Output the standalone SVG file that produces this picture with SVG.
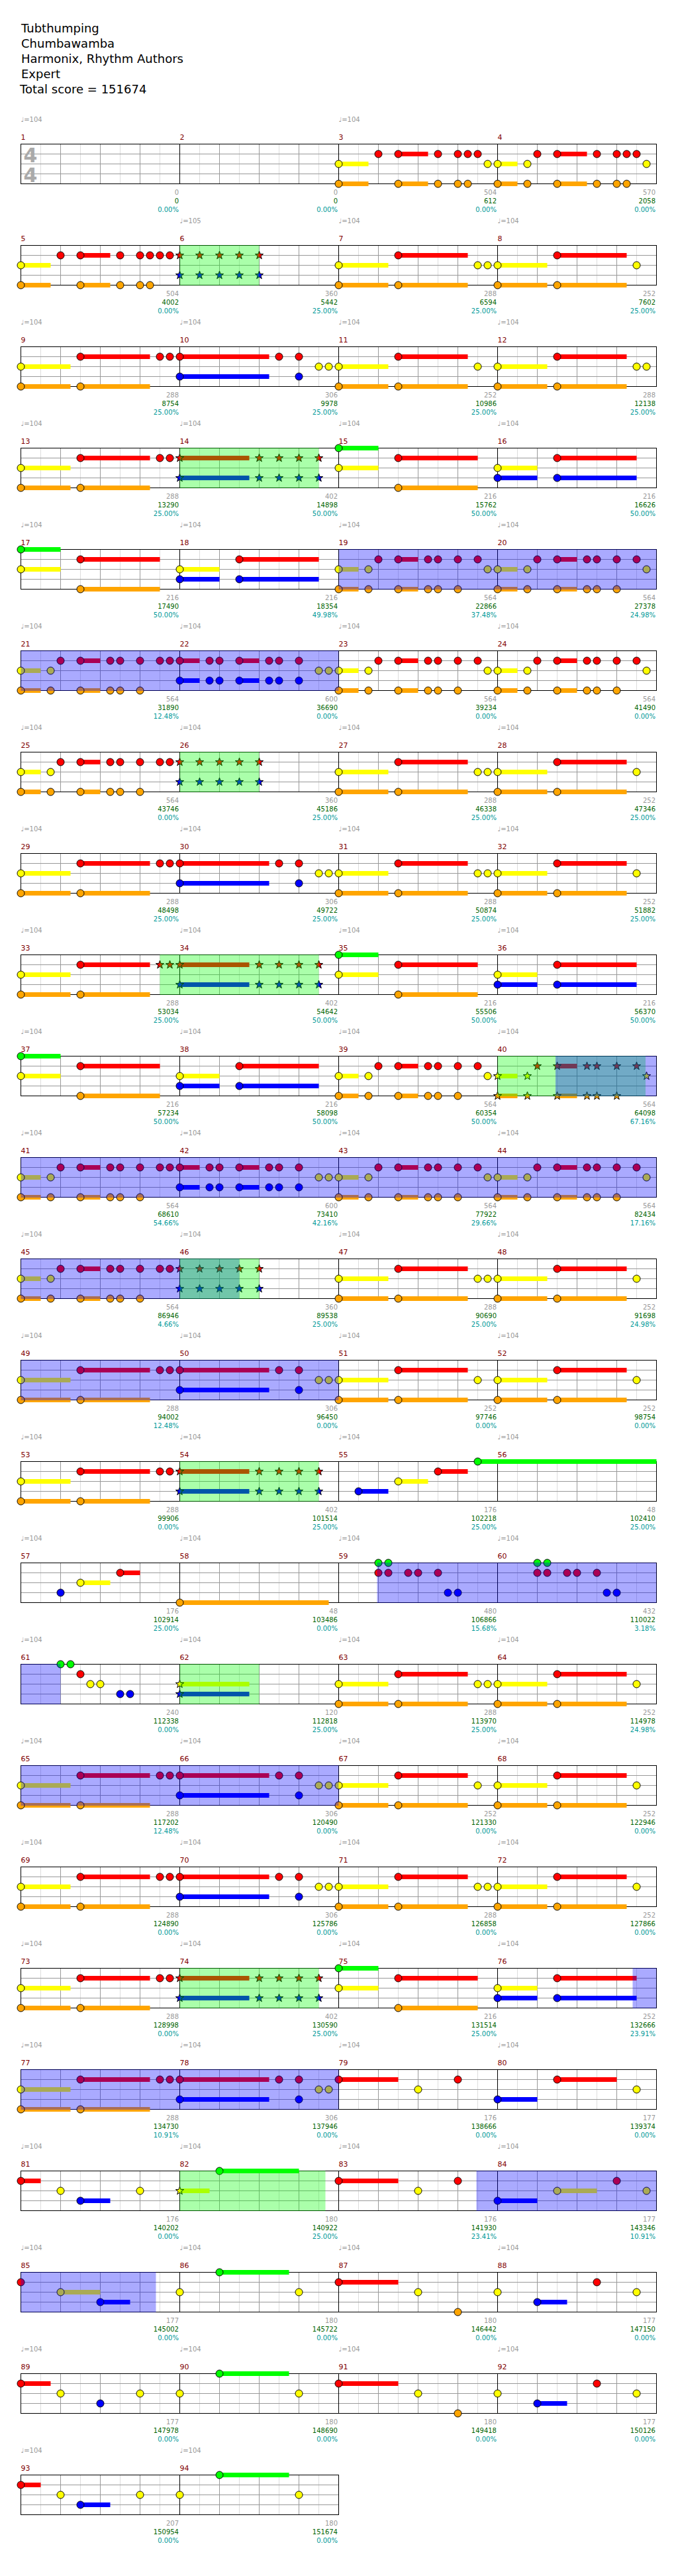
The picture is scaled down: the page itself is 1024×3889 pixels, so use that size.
<svg xmlns="http://www.w3.org/2000/svg" xmlns:xlink="http://www.w3.org/1999/xlink" width="1024" height="3889" viewBox="0 0 1024 3889">
<style>
text{font-family:"DejaVu Sans","Liberation Sans",sans-serif}
.ttl{font-size:18px;fill:#000}
.ts{font-size:30px;font-weight:bold;fill:#aaa}
.mn{font-size:11px;fill:#800000}
.tp{font-size:10px;fill:#999}
.s1,.s2,.s3{font-size:10px;text-anchor:end}
.s1{fill:#999}.s2{fill:#006400}.s3{fill:#009999}
.nt{stroke:#000;stroke-width:1}
.fg{fill:#0f0}.fr{fill:#f00}.fy{fill:#ff0}.fb{fill:#00f}.fo{fill:#ffa500}
.ovg{fill:#0f0;fill-opacity:.333}
.ovb{fill:#00f;fill-opacity:.333}
.gl{stroke:#ddd;fill:none}.gd{stroke:#999;fill:none}.gk{stroke:#000;fill:none}
.grid{shape-rendering:crispEdges}
</style>
<defs>
<circle id="g" r="5.5" class="nt fg"/>
<circle id="r" r="5.5" class="nt fr"/>
<circle id="y" r="5.5" class="nt fy"/>
<circle id="b" r="5.5" class="nt fb"/>
<circle id="o" r="5.5" class="nt fo"/>
<polygon id="st" points="0,-6.5 1.53,-2.1 6.18,-2.01 2.47,0.8 3.82,5.26 0,2.6 -3.82,5.26 -2.47,0.8 -6.18,-2.01 -1.53,-2.1"/>
<use id="sr" href="#st" class="nt fr"/>
<use id="sy" href="#st" class="nt fy"/>
<use id="sb" href="#st" class="nt fb"/>
<use id="so" href="#st" class="nt fo"/>
<g id="gm" class="grid"><path class="gl" d="M30 0V60M90 0V60M150 0V60M210 0V60"/><path class="gd" d="M60 0V60M120 0V60M180 0V60M0 15H240M0 30H240M0 45H240"/></g>
<g id="grid4" class="grid"><use href="#gm"/><use href="#gm" x="240"/><use href="#gm" x="480"/><use href="#gm" x="720"/><path class="gk" d="M240 0V60M480 0V60M720 0V60"/><rect class="gk" width="960" height="60"/></g>
<g id="grid2" class="grid"><use href="#gm"/><use href="#gm" x="240"/><path class="gk" d="M240 0V60"/><rect class="gk" width="480" height="60"/></g>
<g id="P1"><rect class="fr" x="90" y="11.5" width="45" height="7"/><rect class="fo" x="90" y="56.5" width="45" height="7"/><use href="#r" x="60" y="15"/><use href="#r" x="90" y="15"/><use href="#o" x="90" y="60"/><use href="#r" x="150" y="15"/><use href="#o" x="150" y="60"/><use href="#r" x="180" y="15"/><use href="#o" x="180" y="60"/><use href="#r" x="195" y="15"/><use href="#o" x="195" y="60"/><use href="#r" x="210" y="15"/></g>
<g id="A"><rect class="fy" y="26.5" width="45" height="7"/><rect class="fo" y="56.5" width="45" height="7"/><use href="#y" y="30"/><use href="#o" y="60"/><use href="#P1"/><use href="#y" x="225" y="30"/></g>
<g id="B"><rect class="fy" y="26.5" width="30" height="7"/><rect class="fo" y="56.5" width="30" height="7"/><use href="#y" y="30"/><use href="#o" y="60"/><use href="#y" x="45" y="30"/><use href="#o" x="45" y="60"/><use href="#P1"/><use href="#y" x="225" y="30"/></g>
<g id="C"><rect class="fy" y="26.5" width="45" height="7"/><rect class="fo" y="56.5" width="45" height="7"/><use href="#y" y="30"/><use href="#o" y="60"/><use href="#P1"/><use href="#r" x="225" y="15"/></g>
<g id="Q"><rect class="fy" y="26.5" width="75" height="7"/><rect class="fo" y="56.5" width="75" height="7"/><rect class="fr" x="90" y="11.5" width="105" height="7"/><rect class="fo" x="90" y="56.5" width="105" height="7"/><use href="#y" y="30"/><use href="#o" y="60"/><use href="#r" x="90" y="15"/><use href="#o" x="90" y="60"/></g>
<g id="E"><use href="#Q"/><use href="#y" x="210" y="30"/><use href="#y" x="225" y="30"/></g>
<g id="F"><use href="#Q"/><use href="#y" x="210" y="30"/></g>
<g id="G"><use href="#Q"/><use href="#r" x="210" y="15"/><use href="#r" x="225" y="15"/></g>
<g id="Gs"><use href="#Q"/><use href="#sr" x="210" y="15"/><use href="#sr" x="225" y="15"/></g>
<g id="H"><rect class="fr" y="11.5" width="135" height="7"/><rect class="fb" y="41.5" width="135" height="7"/><use href="#r" y="15"/><use href="#b" y="45"/><use href="#r" x="150" y="15"/><use href="#r" x="180" y="15"/><use href="#b" x="180" y="45"/><use href="#y" x="210" y="30"/><use href="#y" x="225" y="30"/></g>
<g id="J"><rect class="fg" y="-3.5" width="60" height="7"/><rect class="fy" y="26.5" width="60" height="7"/><rect class="fr" x="90" y="11.5" width="120" height="7"/><rect class="fo" x="90" y="56.5" width="120" height="7"/><use href="#g"/><use href="#y" y="30"/><use href="#r" x="90" y="15"/><use href="#o" x="90" y="60"/></g>
<g id="K"><rect class="fy" y="26.5" width="60" height="7"/><rect class="fb" y="41.5" width="60" height="7"/><rect class="fr" x="90" y="11.5" width="120" height="7"/><rect class="fb" x="90" y="41.5" width="120" height="7"/><use href="#y" y="30"/><use href="#b" y="45"/><use href="#r" x="90" y="15"/><use href="#b" x="90" y="45"/></g>
<g id="P2"><rect class="fy" y="26.5" width="30" height="7"/><rect class="fo" y="56.5" width="30" height="7"/><rect class="fr" x="90" y="11.5" width="30" height="7"/><rect class="fo" x="90" y="56.5" width="30" height="7"/><use href="#y" y="30"/><use href="#o" y="60"/><use href="#y" x="45" y="30"/><use href="#o" x="45" y="60"/><use href="#r" x="60" y="15"/><use href="#r" x="90" y="15"/><use href="#o" x="90" y="60"/><use href="#r" x="135" y="15"/><use href="#o" x="135" y="60"/><use href="#r" x="150" y="15"/><use href="#o" x="150" y="60"/><use href="#r" x="180" y="15"/><use href="#o" x="180" y="60"/><use href="#r" x="210" y="15"/></g>
<g id="L"><use href="#P2"/><use href="#y" x="225" y="30"/></g>
<g id="M"><use href="#P2"/><use href="#r" x="225" y="15"/></g>
<g id="Ls"><rect class="fy" y="26.5" width="30" height="7"/><rect class="fo" y="56.5" width="30" height="7"/><rect class="fr" x="90" y="11.5" width="30" height="7"/><rect class="fo" x="90" y="56.5" width="30" height="7"/><use href="#sy" y="30"/><use href="#so" y="60"/><use href="#sy" x="45" y="30"/><use href="#so" x="45" y="60"/><use href="#sr" x="60" y="15"/><use href="#sr" x="90" y="15"/><use href="#so" x="90" y="60"/><use href="#sr" x="135" y="15"/><use href="#so" x="135" y="60"/><use href="#sr" x="150" y="15"/><use href="#so" x="150" y="60"/><use href="#sr" x="180" y="15"/><use href="#so" x="180" y="60"/><use href="#sr" x="210" y="15"/><use href="#sy" x="225" y="30"/></g>
<g id="N"><rect class="fr" y="11.5" width="30" height="7"/><rect class="fb" y="41.5" width="30" height="7"/><rect class="fr" x="90" y="11.5" width="30" height="7"/><rect class="fb" x="90" y="41.5" width="30" height="7"/><use href="#r" y="15"/><use href="#b" y="45"/><use href="#r" x="45" y="15"/><use href="#b" x="45" y="45"/><use href="#r" x="60" y="15"/><use href="#b" x="60" y="45"/><use href="#r" x="90" y="15"/><use href="#b" x="90" y="45"/><use href="#r" x="135" y="15"/><use href="#b" x="135" y="45"/><use href="#r" x="150" y="15"/><use href="#b" x="150" y="45"/><use href="#r" x="180" y="15"/><use href="#b" x="180" y="45"/><use href="#y" x="210" y="30"/><use href="#y" x="225" y="30"/></g>
<g id="D"><use href="#sr" y="15"/><use href="#sb" y="45"/><use href="#sr" x="30" y="15"/><use href="#sb" x="30" y="45"/><use href="#sr" x="60" y="15"/><use href="#sb" x="60" y="45"/><use href="#sr" x="90" y="15"/><use href="#sb" x="90" y="45"/><use href="#sr" x="120" y="15"/><use href="#sb" x="120" y="45"/></g>
<g id="I"><rect class="fr" y="11.5" width="105" height="7"/><rect class="fb" y="41.5" width="105" height="7"/><use href="#sr" y="15"/><use href="#sb" y="45"/><use href="#sr" x="120" y="15"/><use href="#sb" x="120" y="45"/><use href="#sr" x="150" y="15"/><use href="#sb" x="150" y="45"/><use href="#sr" x="180" y="15"/><use href="#sb" x="180" y="45"/><use href="#sr" x="210" y="15"/><use href="#sb" x="210" y="45"/></g>
<g id="W"><use href="#g" x="60" y="0"/><use href="#g" x="75" y="0"/><use href="#r" x="60" y="15"/><use href="#r" x="75" y="15"/><use href="#r" x="105" y="15"/><use href="#r" x="120" y="15"/><use href="#r" x="150" y="15"/><use href="#b" x="165" y="45"/><use href="#b" x="180" y="45"/></g>
</defs>
<rect width="1024" height="3889" fill="#fff"/>
<g id="header">
<text class="ttl" x="32" y="49">Tubthumping</text>
<text class="ttl" x="32" y="72">Chumbawamba</text>
<text class="ttl" x="32" y="95">Harmonix, Rhythm Authors</text>
<text class="ttl" x="32" y="118">Expert</text>
<text class="ttl" x="30" y="141">Total score = 151674</text>
</g>

<g id="row1" transform="translate(31.5,217.5)">
<use href="#grid4"/>
<text class="ts" x="4" y="27">4</text><text class="ts" x="4" y="57">4</text>
<g id="m1"><text class="mn" x="0" y="-7">1</text><text class="tp" x="0" y="-33.5">♩=104</text><text class="s1" x="238.5" y="76">0</text><text class="s2" x="238.5" y="89">0</text><text class="s3" x="238.5" y="102">0.00%</text></g>
<g id="m2" transform="translate(240,0)"><text class="mn" x="0" y="-7">2</text><text class="s1" x="238.5" y="76">0</text><text class="s2" x="238.5" y="89">0</text><text class="s3" x="238.5" y="102">0.00%</text></g>
<g id="m3" transform="translate(480,0)"><use href="#A"/><text class="mn" x="0" y="-7">3</text><text class="tp" x="0" y="-33.5">♩=104</text><text class="s1" x="238.5" y="76">504</text><text class="s2" x="238.5" y="89">612</text><text class="s3" x="238.5" y="102">0.00%</text></g>
<g id="m4" transform="translate(720,0)"><use href="#B"/><text class="mn" x="0" y="-7">4</text><text class="s1" x="238.5" y="76">570</text><text class="s2" x="238.5" y="89">2058</text><text class="s3" x="238.5" y="102">0.00%</text></g>
</g>

<g id="row2" transform="translate(31.5,370.5)">
<use href="#grid4"/>
<g id="m5"><use href="#C"/><text class="mn" x="0" y="-7">5</text><text class="s1" x="238.5" y="76">504</text><text class="s2" x="238.5" y="89">4002</text><text class="s3" x="238.5" y="102">0.00%</text></g>
<g id="m6" transform="translate(240,0)"><use href="#D"/><text class="mn" x="0" y="-7">6</text><text class="tp" x="0" y="-33.5">♩=105</text><text class="s1" x="238.5" y="76">360</text><text class="s2" x="238.5" y="89">5442</text><text class="s3" x="238.5" y="102">25.00%</text></g>
<g id="m7" transform="translate(480,0)"><use href="#E"/><text class="mn" x="0" y="-7">7</text><text class="tp" x="0" y="-33.5">♩=104</text><text class="s1" x="238.5" y="76">288</text><text class="s2" x="238.5" y="89">6594</text><text class="s3" x="238.5" y="102">25.00%</text></g>
<g id="m8" transform="translate(720,0)"><use href="#F"/><text class="mn" x="0" y="-7">8</text><text class="tp" x="0" y="-33.5">♩=104</text><text class="s1" x="238.5" y="76">252</text><text class="s2" x="238.5" y="89">7602</text><text class="s3" x="238.5" y="102">25.00%</text></g>
<rect class="ovg" x="240" y="-0.5" width="120" height="61"/>
</g>

<g id="row3" transform="translate(31.5,523.5)">
<use href="#grid4"/>
<g id="m9"><use href="#G"/><text class="mn" x="0" y="-7">9</text><text class="tp" x="0" y="-33.5">♩=104</text><text class="s1" x="238.5" y="76">288</text><text class="s2" x="238.5" y="89">8754</text><text class="s3" x="238.5" y="102">25.00%</text></g>
<g id="m10" transform="translate(240,0)"><use href="#H"/><text class="mn" x="0" y="-7">10</text><text class="tp" x="0" y="-33.5">♩=104</text><text class="s1" x="238.5" y="76">306</text><text class="s2" x="238.5" y="89">9978</text><text class="s3" x="238.5" y="102">25.00%</text></g>
<g id="m11" transform="translate(480,0)"><use href="#F"/><text class="mn" x="0" y="-7">11</text><text class="tp" x="0" y="-33.5">♩=104</text><text class="s1" x="238.5" y="76">252</text><text class="s2" x="238.5" y="89">10986</text><text class="s3" x="238.5" y="102">25.00%</text></g>
<g id="m12" transform="translate(720,0)"><use href="#E"/><text class="mn" x="0" y="-7">12</text><text class="tp" x="0" y="-33.5">♩=104</text><text class="s1" x="238.5" y="76">288</text><text class="s2" x="238.5" y="89">12138</text><text class="s3" x="238.5" y="102">25.00%</text></g>
</g>

<g id="row4" transform="translate(31.5,676.5)">
<use href="#grid4"/>
<g id="m13"><use href="#G"/><text class="mn" x="0" y="-7">13</text><text class="tp" x="0" y="-33.5">♩=104</text><text class="s1" x="238.5" y="76">288</text><text class="s2" x="238.5" y="89">13290</text><text class="s3" x="238.5" y="102">25.00%</text></g>
<g id="m14" transform="translate(240,0)"><use href="#I"/><text class="mn" x="0" y="-7">14</text><text class="tp" x="0" y="-33.5">♩=104</text><text class="s1" x="238.5" y="76">402</text><text class="s2" x="238.5" y="89">14898</text><text class="s3" x="238.5" y="102">50.00%</text></g>
<g id="m15" transform="translate(480,0)"><use href="#J"/><text class="mn" x="0" y="-7">15</text><text class="tp" x="0" y="-33.5">♩=104</text><text class="s1" x="238.5" y="76">216</text><text class="s2" x="238.5" y="89">15762</text><text class="s3" x="238.5" y="102">50.00%</text></g>
<g id="m16" transform="translate(720,0)"><use href="#K"/><text class="mn" x="0" y="-7">16</text><text class="tp" x="0" y="-33.5">♩=104</text><text class="s1" x="238.5" y="76">216</text><text class="s2" x="238.5" y="89">16626</text><text class="s3" x="238.5" y="102">50.00%</text></g>
<rect class="ovg" x="240" y="-0.5" width="210" height="61"/>
</g>

<g id="row5" transform="translate(31.5,829.5)">
<use href="#grid4"/>
<g id="m17"><use href="#J"/><text class="mn" x="0" y="-7">17</text><text class="tp" x="0" y="-33.5">♩=104</text><text class="s1" x="238.5" y="76">216</text><text class="s2" x="238.5" y="89">17490</text><text class="s3" x="238.5" y="102">50.00%</text></g>
<g id="m18" transform="translate(240,0)"><use href="#K"/><text class="mn" x="0" y="-7">18</text><text class="tp" x="0" y="-33.5">♩=104</text><text class="s1" x="238.5" y="76">216</text><text class="s2" x="238.5" y="89">18354</text><text class="s3" x="238.5" y="102">49.98%</text></g>
<g id="m19" transform="translate(480,0)"><use href="#L"/><text class="mn" x="0" y="-7">19</text><text class="tp" x="0" y="-33.5">♩=104</text><text class="s1" x="238.5" y="76">564</text><text class="s2" x="238.5" y="89">22866</text><text class="s3" x="238.5" y="102">37.48%</text></g>
<g id="m20" transform="translate(720,0)"><use href="#L"/><text class="mn" x="0" y="-7">20</text><text class="tp" x="0" y="-33.5">♩=104</text><text class="s1" x="238.5" y="76">564</text><text class="s2" x="238.5" y="89">27378</text><text class="s3" x="238.5" y="102">24.98%</text></g>
<rect class="ovb" x="480" y="-0.5" width="480" height="61"/>
</g>

<g id="row6" transform="translate(31.5,982.5)">
<use href="#grid4"/>
<g id="m21"><use href="#M"/><text class="mn" x="0" y="-7">21</text><text class="tp" x="0" y="-33.5">♩=104</text><text class="s1" x="238.5" y="76">564</text><text class="s2" x="238.5" y="89">31890</text><text class="s3" x="238.5" y="102">12.48%</text></g>
<g id="m22" transform="translate(240,0)"><use href="#N"/><text class="mn" x="0" y="-7">22</text><text class="tp" x="0" y="-33.5">♩=104</text><text class="s1" x="238.5" y="76">600</text><text class="s2" x="238.5" y="89">36690</text><text class="s3" x="238.5" y="102">0.00%</text></g>
<g id="m23" transform="translate(480,0)"><use href="#L"/><text class="mn" x="0" y="-7">23</text><text class="tp" x="0" y="-33.5">♩=104</text><text class="s1" x="238.5" y="76">564</text><text class="s2" x="238.5" y="89">39234</text><text class="s3" x="238.5" y="102">0.00%</text></g>
<g id="m24" transform="translate(720,0)"><use href="#L"/><text class="mn" x="0" y="-7">24</text><text class="tp" x="0" y="-33.5">♩=104</text><text class="s1" x="238.5" y="76">564</text><text class="s2" x="238.5" y="89">41490</text><text class="s3" x="238.5" y="102">0.00%</text></g>
<rect class="ovb" x="0" y="-0.5" width="480" height="61"/>
</g>

<g id="row7" transform="translate(31.5,1135.5)">
<use href="#grid4"/>
<g id="m25"><use href="#M"/><text class="mn" x="0" y="-7">25</text><text class="tp" x="0" y="-33.5">♩=104</text><text class="s1" x="238.5" y="76">564</text><text class="s2" x="238.5" y="89">43746</text><text class="s3" x="238.5" y="102">0.00%</text></g>
<g id="m26" transform="translate(240,0)"><use href="#D"/><text class="mn" x="0" y="-7">26</text><text class="tp" x="0" y="-33.5">♩=104</text><text class="s1" x="238.5" y="76">360</text><text class="s2" x="238.5" y="89">45186</text><text class="s3" x="238.5" y="102">25.00%</text></g>
<g id="m27" transform="translate(480,0)"><use href="#E"/><text class="mn" x="0" y="-7">27</text><text class="tp" x="0" y="-33.5">♩=104</text><text class="s1" x="238.5" y="76">288</text><text class="s2" x="238.5" y="89">46338</text><text class="s3" x="238.5" y="102">25.00%</text></g>
<g id="m28" transform="translate(720,0)"><use href="#F"/><text class="mn" x="0" y="-7">28</text><text class="tp" x="0" y="-33.5">♩=104</text><text class="s1" x="238.5" y="76">252</text><text class="s2" x="238.5" y="89">47346</text><text class="s3" x="238.5" y="102">25.00%</text></g>
<rect class="ovg" x="240" y="-0.5" width="120" height="61"/>
</g>

<g id="row8" transform="translate(31.5,1288.5)">
<use href="#grid4"/>
<g id="m29"><use href="#G"/><text class="mn" x="0" y="-7">29</text><text class="tp" x="0" y="-33.5">♩=104</text><text class="s1" x="238.5" y="76">288</text><text class="s2" x="238.5" y="89">48498</text><text class="s3" x="238.5" y="102">25.00%</text></g>
<g id="m30" transform="translate(240,0)"><use href="#H"/><text class="mn" x="0" y="-7">30</text><text class="tp" x="0" y="-33.5">♩=104</text><text class="s1" x="238.5" y="76">306</text><text class="s2" x="238.5" y="89">49722</text><text class="s3" x="238.5" y="102">25.00%</text></g>
<g id="m31" transform="translate(480,0)"><use href="#E"/><text class="mn" x="0" y="-7">31</text><text class="tp" x="0" y="-33.5">♩=104</text><text class="s1" x="238.5" y="76">288</text><text class="s2" x="238.5" y="89">50874</text><text class="s3" x="238.5" y="102">25.00%</text></g>
<g id="m32" transform="translate(720,0)"><use href="#F"/><text class="mn" x="0" y="-7">32</text><text class="tp" x="0" y="-33.5">♩=104</text><text class="s1" x="238.5" y="76">252</text><text class="s2" x="238.5" y="89">51882</text><text class="s3" x="238.5" y="102">25.00%</text></g>
</g>

<g id="row9" transform="translate(31.5,1441.5)">
<use href="#grid4"/>
<g id="m33"><use href="#Gs"/><text class="mn" x="0" y="-7">33</text><text class="tp" x="0" y="-33.5">♩=104</text><text class="s1" x="238.5" y="76">288</text><text class="s2" x="238.5" y="89">53034</text><text class="s3" x="238.5" y="102">25.00%</text></g>
<g id="m34" transform="translate(240,0)"><use href="#I"/><text class="mn" x="0" y="-7">34</text><text class="tp" x="0" y="-33.5">♩=104</text><text class="s1" x="238.5" y="76">402</text><text class="s2" x="238.5" y="89">54642</text><text class="s3" x="238.5" y="102">50.00%</text></g>
<g id="m35" transform="translate(480,0)"><use href="#J"/><text class="mn" x="0" y="-7">35</text><text class="tp" x="0" y="-33.5">♩=104</text><text class="s1" x="238.5" y="76">216</text><text class="s2" x="238.5" y="89">55506</text><text class="s3" x="238.5" y="102">50.00%</text></g>
<g id="m36" transform="translate(720,0)"><use href="#K"/><text class="mn" x="0" y="-7">36</text><text class="tp" x="0" y="-33.5">♩=104</text><text class="s1" x="238.5" y="76">216</text><text class="s2" x="238.5" y="89">56370</text><text class="s3" x="238.5" y="102">50.00%</text></g>
<rect class="ovg" x="210" y="-0.5" width="240" height="61"/>
</g>

<g id="row10" transform="translate(31.5,1594.5)">
<use href="#grid4"/>
<g id="m37"><use href="#J"/><text class="mn" x="0" y="-7">37</text><text class="tp" x="0" y="-33.5">♩=104</text><text class="s1" x="238.5" y="76">216</text><text class="s2" x="238.5" y="89">57234</text><text class="s3" x="238.5" y="102">50.00%</text></g>
<g id="m38" transform="translate(240,0)"><use href="#K"/><text class="mn" x="0" y="-7">38</text><text class="tp" x="0" y="-33.5">♩=104</text><text class="s1" x="238.5" y="76">216</text><text class="s2" x="238.5" y="89">58098</text><text class="s3" x="238.5" y="102">50.00%</text></g>
<g id="m39" transform="translate(480,0)"><use href="#L"/><text class="mn" x="0" y="-7">39</text><text class="tp" x="0" y="-33.5">♩=104</text><text class="s1" x="238.5" y="76">564</text><text class="s2" x="238.5" y="89">60354</text><text class="s3" x="238.5" y="102">50.00%</text></g>
<g id="m40" transform="translate(720,0)"><use href="#Ls"/><text class="mn" x="0" y="-7">40</text><text class="tp" x="0" y="-33.5">♩=104</text><text class="s1" x="238.5" y="76">564</text><text class="s2" x="238.5" y="89">64098</text><text class="s3" x="238.5" y="102">67.16%</text></g>
<rect class="ovg" x="720" y="-0.5" width="223.5" height="61"/>
<rect class="ovb" x="807.5" y="-0.5" width="152.5" height="61"/>
</g>

<g id="row11" transform="translate(31.5,1747.5)">
<use href="#grid4"/>
<g id="m41"><use href="#M"/><text class="mn" x="0" y="-7">41</text><text class="tp" x="0" y="-33.5">♩=104</text><text class="s1" x="238.5" y="76">564</text><text class="s2" x="238.5" y="89">68610</text><text class="s3" x="238.5" y="102">54.66%</text></g>
<g id="m42" transform="translate(240,0)"><use href="#N"/><text class="mn" x="0" y="-7">42</text><text class="tp" x="0" y="-33.5">♩=104</text><text class="s1" x="238.5" y="76">600</text><text class="s2" x="238.5" y="89">73410</text><text class="s3" x="238.5" y="102">42.16%</text></g>
<g id="m43" transform="translate(480,0)"><use href="#L"/><text class="mn" x="0" y="-7">43</text><text class="tp" x="0" y="-33.5">♩=104</text><text class="s1" x="238.5" y="76">564</text><text class="s2" x="238.5" y="89">77922</text><text class="s3" x="238.5" y="102">29.66%</text></g>
<g id="m44" transform="translate(720,0)"><use href="#L"/><text class="mn" x="0" y="-7">44</text><text class="tp" x="0" y="-33.5">♩=104</text><text class="s1" x="238.5" y="76">564</text><text class="s2" x="238.5" y="89">82434</text><text class="s3" x="238.5" y="102">17.16%</text></g>
<rect class="ovb" x="0" y="-0.5" width="960" height="61"/>
</g>

<g id="row12" transform="translate(31.5,1900.5)">
<use href="#grid4"/>
<g id="m45"><use href="#M"/><text class="mn" x="0" y="-7">45</text><text class="tp" x="0" y="-33.5">♩=104</text><text class="s1" x="238.5" y="76">564</text><text class="s2" x="238.5" y="89">86946</text><text class="s3" x="238.5" y="102">4.66%</text></g>
<g id="m46" transform="translate(240,0)"><use href="#D"/><text class="mn" x="0" y="-7">46</text><text class="tp" x="0" y="-33.5">♩=104</text><text class="s1" x="238.5" y="76">360</text><text class="s2" x="238.5" y="89">89538</text><text class="s3" x="238.5" y="102">25.00%</text></g>
<g id="m47" transform="translate(480,0)"><use href="#E"/><text class="mn" x="0" y="-7">47</text><text class="tp" x="0" y="-33.5">♩=104</text><text class="s1" x="238.5" y="76">288</text><text class="s2" x="238.5" y="89">90690</text><text class="s3" x="238.5" y="102">25.00%</text></g>
<g id="m48" transform="translate(720,0)"><use href="#F"/><text class="mn" x="0" y="-7">48</text><text class="tp" x="0" y="-33.5">♩=104</text><text class="s1" x="238.5" y="76">252</text><text class="s2" x="238.5" y="89">91698</text><text class="s3" x="238.5" y="102">24.98%</text></g>
<rect class="ovb" x="0" y="-0.5" width="330" height="61"/>
<rect class="ovg" x="240" y="-0.5" width="120" height="61"/>
</g>

<g id="row13" transform="translate(31.5,2053.5)">
<use href="#grid4"/>
<g id="m49"><use href="#G"/><text class="mn" x="0" y="-7">49</text><text class="tp" x="0" y="-33.5">♩=104</text><text class="s1" x="238.5" y="76">288</text><text class="s2" x="238.5" y="89">94002</text><text class="s3" x="238.5" y="102">12.48%</text></g>
<g id="m50" transform="translate(240,0)"><use href="#H"/><text class="mn" x="0" y="-7">50</text><text class="tp" x="0" y="-33.5">♩=104</text><text class="s1" x="238.5" y="76">306</text><text class="s2" x="238.5" y="89">96450</text><text class="s3" x="238.5" y="102">0.00%</text></g>
<g id="m51" transform="translate(480,0)"><use href="#F"/><text class="mn" x="0" y="-7">51</text><text class="tp" x="0" y="-33.5">♩=104</text><text class="s1" x="238.5" y="76">252</text><text class="s2" x="238.5" y="89">97746</text><text class="s3" x="238.5" y="102">0.00%</text></g>
<g id="m52" transform="translate(720,0)"><use href="#F"/><text class="mn" x="0" y="-7">52</text><text class="tp" x="0" y="-33.5">♩=104</text><text class="s1" x="238.5" y="76">252</text><text class="s2" x="238.5" y="89">98754</text><text class="s3" x="238.5" y="102">0.00%</text></g>
<rect class="ovb" x="0" y="-0.5" width="480" height="61"/>
</g>

<g id="row14" transform="translate(31.5,2206.5)">
<use href="#grid4"/>
<g id="m53"><use href="#G"/><text class="mn" x="0" y="-7">53</text><text class="tp" x="0" y="-33.5">♩=104</text><text class="s1" x="238.5" y="76">288</text><text class="s2" x="238.5" y="89">99906</text><text class="s3" x="238.5" y="102">0.00%</text></g>
<g id="m54" transform="translate(240,0)"><use href="#I"/><text class="mn" x="0" y="-7">54</text><text class="tp" x="0" y="-33.5">♩=104</text><text class="s1" x="238.5" y="76">402</text><text class="s2" x="238.5" y="89">101514</text><text class="s3" x="238.5" y="102">25.00%</text></g>
<g id="m55" transform="translate(480,0)"><rect class="fb" x="30" y="41.5" width="45" height="7"/><rect class="fy" x="90" y="26.5" width="45" height="7"/><rect class="fr" x="150" y="11.5" width="45" height="7"/><rect class="fg" x="210" y="-3.5" width="270" height="7"/><use href="#b" x="30" y="45"/><use href="#y" x="90" y="30"/><use href="#r" x="150" y="15"/><use href="#g" x="210" y="0"/><text class="mn" x="0" y="-7">55</text><text class="tp" x="0" y="-33.5">♩=104</text><text class="s1" x="238.5" y="76">176</text><text class="s2" x="238.5" y="89">102218</text><text class="s3" x="238.5" y="102">25.00%</text></g>
<g id="m56" transform="translate(720,0)"><text class="mn" x="0" y="-7">56</text><text class="tp" x="0" y="-33.5">♩=104</text><text class="s1" x="238.5" y="76">48</text><text class="s2" x="238.5" y="89">102410</text><text class="s3" x="238.5" y="102">25.00%</text></g>
<rect class="ovg" x="240" y="-0.5" width="210" height="61"/>
</g>

<g id="row15" transform="translate(31.5,2359.5)">
<use href="#grid4"/>
<g id="m57"><rect class="fy" x="90" y="26.5" width="45" height="7"/><rect class="fr" x="150" y="11.5" width="30" height="7"/><use href="#b" x="60" y="45"/><use href="#y" x="90" y="30"/><use href="#r" x="150" y="15"/><text class="mn" x="0" y="-7">57</text><text class="tp" x="0" y="-33.5">♩=104</text><text class="s1" x="238.5" y="76">176</text><text class="s2" x="238.5" y="89">102914</text><text class="s3" x="238.5" y="102">25.00%</text></g>
<g id="m58" transform="translate(240,0)"><rect class="fo" x="0" y="56.5" width="225" height="7"/><use href="#o" x="0" y="60"/><text class="mn" x="0" y="-7">58</text><text class="tp" x="0" y="-33.5">♩=104</text><text class="s1" x="238.5" y="76">48</text><text class="s2" x="238.5" y="89">103486</text><text class="s3" x="238.5" y="102">0.00%</text></g>
<g id="m59" transform="translate(480,0)"><use href="#W"/><text class="mn" x="0" y="-7">59</text><text class="tp" x="0" y="-33.5">♩=104</text><text class="s1" x="238.5" y="76">480</text><text class="s2" x="238.5" y="89">106866</text><text class="s3" x="238.5" y="102">15.68%</text></g>
<g id="m60" transform="translate(720,0)"><use href="#W"/><text class="mn" x="0" y="-7">60</text><text class="tp" x="0" y="-33.5">♩=104</text><text class="s1" x="238.5" y="76">432</text><text class="s2" x="238.5" y="89">110022</text><text class="s3" x="238.5" y="102">3.18%</text></g>
<rect class="ovb" x="538" y="-0.5" width="422" height="61"/>
</g>

<g id="row16" transform="translate(31.5,2512.5)">
<use href="#grid4"/>
<g id="m61"><use href="#g" x="60" y="0"/><use href="#g" x="75" y="0"/><use href="#r" x="90" y="15"/><use href="#y" x="105" y="30"/><use href="#y" x="120" y="30"/><use href="#b" x="150" y="45"/><use href="#b" x="165" y="45"/><text class="mn" x="0" y="-7">61</text><text class="tp" x="0" y="-33.5">♩=104</text><text class="s1" x="238.5" y="76">240</text><text class="s2" x="238.5" y="89">112338</text><text class="s3" x="238.5" y="102">0.00%</text></g>
<g id="m62" transform="translate(240,0)"><rect class="fy" y="26.5" width="105" height="7"/><rect class="fb" y="41.5" width="105" height="7"/><use href="#sy" y="30"/><use href="#sb" y="45"/><text class="mn" x="0" y="-7">62</text><text class="tp" x="0" y="-33.5">♩=104</text><text class="s1" x="238.5" y="76">120</text><text class="s2" x="238.5" y="89">112818</text><text class="s3" x="238.5" y="102">25.00%</text></g>
<g id="m63" transform="translate(480,0)"><use href="#E"/><text class="mn" x="0" y="-7">63</text><text class="tp" x="0" y="-33.5">♩=104</text><text class="s1" x="238.5" y="76">288</text><text class="s2" x="238.5" y="89">113970</text><text class="s3" x="238.5" y="102">25.00%</text></g>
<g id="m64" transform="translate(720,0)"><use href="#F"/><text class="mn" x="0" y="-7">64</text><text class="tp" x="0" y="-33.5">♩=104</text><text class="s1" x="238.5" y="76">252</text><text class="s2" x="238.5" y="89">114978</text><text class="s3" x="238.5" y="102">24.98%</text></g>
<rect class="ovb" x="0" y="-0.5" width="60" height="61"/>
<rect class="ovg" x="240" y="-0.5" width="120" height="61"/>
</g>

<g id="row17" transform="translate(31.5,2665.5)">
<use href="#grid4"/>
<g id="m65"><use href="#G"/><text class="mn" x="0" y="-7">65</text><text class="tp" x="0" y="-33.5">♩=104</text><text class="s1" x="238.5" y="76">288</text><text class="s2" x="238.5" y="89">117202</text><text class="s3" x="238.5" y="102">12.48%</text></g>
<g id="m66" transform="translate(240,0)"><use href="#H"/><text class="mn" x="0" y="-7">66</text><text class="tp" x="0" y="-33.5">♩=104</text><text class="s1" x="238.5" y="76">306</text><text class="s2" x="238.5" y="89">120490</text><text class="s3" x="238.5" y="102">0.00%</text></g>
<g id="m67" transform="translate(480,0)"><use href="#F"/><text class="mn" x="0" y="-7">67</text><text class="tp" x="0" y="-33.5">♩=104</text><text class="s1" x="238.5" y="76">252</text><text class="s2" x="238.5" y="89">121330</text><text class="s3" x="238.5" y="102">0.00%</text></g>
<g id="m68" transform="translate(720,0)"><use href="#F"/><text class="mn" x="0" y="-7">68</text><text class="tp" x="0" y="-33.5">♩=104</text><text class="s1" x="238.5" y="76">252</text><text class="s2" x="238.5" y="89">122946</text><text class="s3" x="238.5" y="102">0.00%</text></g>
<rect class="ovb" x="0" y="-0.5" width="480" height="61"/>
</g>

<g id="row18" transform="translate(31.5,2818.5)">
<use href="#grid4"/>
<g id="m69"><use href="#G"/><text class="mn" x="0" y="-7">69</text><text class="tp" x="0" y="-33.5">♩=104</text><text class="s1" x="238.5" y="76">288</text><text class="s2" x="238.5" y="89">124890</text><text class="s3" x="238.5" y="102">0.00%</text></g>
<g id="m70" transform="translate(240,0)"><use href="#H"/><text class="mn" x="0" y="-7">70</text><text class="tp" x="0" y="-33.5">♩=104</text><text class="s1" x="238.5" y="76">306</text><text class="s2" x="238.5" y="89">125786</text><text class="s3" x="238.5" y="102">0.00%</text></g>
<g id="m71" transform="translate(480,0)"><use href="#E"/><text class="mn" x="0" y="-7">71</text><text class="tp" x="0" y="-33.5">♩=104</text><text class="s1" x="238.5" y="76">288</text><text class="s2" x="238.5" y="89">126858</text><text class="s3" x="238.5" y="102">0.00%</text></g>
<g id="m72" transform="translate(720,0)"><use href="#F"/><text class="mn" x="0" y="-7">72</text><text class="tp" x="0" y="-33.5">♩=104</text><text class="s1" x="238.5" y="76">252</text><text class="s2" x="238.5" y="89">127866</text><text class="s3" x="238.5" y="102">0.00%</text></g>
</g>

<g id="row19" transform="translate(31.5,2971.5)">
<use href="#grid4"/>
<g id="m73"><use href="#G"/><text class="mn" x="0" y="-7">73</text><text class="tp" x="0" y="-33.5">♩=104</text><text class="s1" x="238.5" y="76">288</text><text class="s2" x="238.5" y="89">128998</text><text class="s3" x="238.5" y="102">0.00%</text></g>
<g id="m74" transform="translate(240,0)"><use href="#I"/><text class="mn" x="0" y="-7">74</text><text class="tp" x="0" y="-33.5">♩=104</text><text class="s1" x="238.5" y="76">402</text><text class="s2" x="238.5" y="89">130590</text><text class="s3" x="238.5" y="102">25.00%</text></g>
<g id="m75" transform="translate(480,0)"><use href="#J"/><text class="mn" x="0" y="-7">75</text><text class="tp" x="0" y="-33.5">♩=104</text><text class="s1" x="238.5" y="76">216</text><text class="s2" x="238.5" y="89">131514</text><text class="s3" x="238.5" y="102">25.00%</text></g>
<g id="m76" transform="translate(720,0)"><use href="#K"/><text class="mn" x="0" y="-7">76</text><text class="tp" x="0" y="-33.5">♩=104</text><text class="s1" x="238.5" y="76">252</text><text class="s2" x="238.5" y="89">132666</text><text class="s3" x="238.5" y="102">23.91%</text></g>
<rect class="ovg" x="240" y="-0.5" width="210" height="61"/>
<rect class="ovb" x="924" y="-0.5" width="36" height="61"/>
</g>

<g id="row20" transform="translate(31.5,3124.5)">
<use href="#grid4"/>
<g id="m77"><use href="#G"/><text class="mn" x="0" y="-7">77</text><text class="tp" x="0" y="-33.5">♩=104</text><text class="s1" x="238.5" y="76">288</text><text class="s2" x="238.5" y="89">134730</text><text class="s3" x="238.5" y="102">10.91%</text></g>
<g id="m78" transform="translate(240,0)"><use href="#H"/><text class="mn" x="0" y="-7">78</text><text class="tp" x="0" y="-33.5">♩=104</text><text class="s1" x="238.5" y="76">306</text><text class="s2" x="238.5" y="89">137946</text><text class="s3" x="238.5" y="102">0.00%</text></g>
<g id="m79" transform="translate(480,0)"><rect class="fr" y="11.5" width="90" height="7"/><use href="#r" y="15"/><use href="#y" x="120" y="30"/><use href="#r" x="180" y="15"/><text class="mn" x="0" y="-7">79</text><text class="tp" x="0" y="-33.5">♩=104</text><text class="s1" x="238.5" y="76">176</text><text class="s2" x="238.5" y="89">138666</text><text class="s3" x="238.5" y="102">0.00%</text></g>
<g id="m80" transform="translate(720,0)"><rect class="fb" y="41.5" width="60" height="7"/><rect class="fr" x="90" y="11.5" width="90" height="7"/><use href="#b" y="45"/><use href="#r" x="90" y="15"/><use href="#y" x="210" y="30"/><text class="mn" x="0" y="-7">80</text><text class="tp" x="0" y="-33.5">♩=104</text><text class="s1" x="238.5" y="76">177</text><text class="s2" x="238.5" y="89">139374</text><text class="s3" x="238.5" y="102">0.00%</text></g>
<rect class="ovb" x="0" y="-0.5" width="480" height="61"/>
</g>

<g id="row21" transform="translate(31.5,3277.5)">
<use href="#grid4"/>
<g id="m81"><rect class="fr" y="11.5" width="30" height="7"/><rect class="fb" x="90" y="41.5" width="45" height="7"/><use href="#r" y="15"/><use href="#y" x="60" y="30"/><use href="#b" x="90" y="45"/><use href="#y" x="180" y="30"/><text class="mn" x="0" y="-7">81</text><text class="tp" x="0" y="-33.5">♩=104</text><text class="s1" x="238.5" y="76">176</text><text class="s2" x="238.5" y="89">140202</text><text class="s3" x="238.5" y="102">0.00%</text></g>
<g id="m82" transform="translate(240,0)"><rect class="fg" x="60" y="-3.5" width="120" height="7"/><rect class="fy" y="26.5" width="45" height="7"/><use href="#sy" y="30"/><use href="#g" x="60" y="0"/><text class="mn" x="0" y="-7">82</text><text class="tp" x="0" y="-33.5">♩=104</text><text class="s1" x="238.5" y="76">180</text><text class="s2" x="238.5" y="89">140922</text><text class="s3" x="238.5" y="102">25.00%</text></g>
<g id="m83" transform="translate(480,0)"><rect class="fr" y="11.5" width="90" height="7"/><use href="#r" y="15"/><use href="#y" x="120" y="30"/><use href="#r" x="180" y="15"/><text class="mn" x="0" y="-7">83</text><text class="tp" x="0" y="-33.5">♩=104</text><text class="s1" x="238.5" y="76">176</text><text class="s2" x="238.5" y="89">141930</text><text class="s3" x="238.5" y="102">23.41%</text></g>
<g id="m84" transform="translate(720,0)"><rect class="fb" y="41.5" width="60" height="7"/><rect class="fy" x="90" y="26.5" width="60" height="7"/><use href="#b" y="45"/><use href="#y" x="90" y="30"/><use href="#r" x="180" y="15"/><use href="#y" x="225" y="30"/><text class="mn" x="0" y="-7">84</text><text class="tp" x="0" y="-33.5">♩=104</text><text class="s1" x="238.5" y="76">177</text><text class="s2" x="238.5" y="89">143346</text><text class="s3" x="238.5" y="102">10.91%</text></g>
<rect class="ovg" x="240" y="-0.5" width="220" height="61"/>
<rect class="ovb" x="688" y="-0.5" width="272" height="61"/>
</g>

<g id="row22" transform="translate(31.5,3430.5)">
<use href="#grid4"/>
<g id="m85"><rect class="fy" x="60" y="26.5" width="60" height="7"/><rect class="fb" x="120" y="41.5" width="45" height="7"/><use href="#r" y="15"/><use href="#y" x="60" y="30"/><use href="#b" x="120" y="45"/><text class="mn" x="0" y="-7">85</text><text class="tp" x="0" y="-33.5">♩=104</text><text class="s1" x="238.5" y="76">177</text><text class="s2" x="238.5" y="89">145002</text><text class="s3" x="238.5" y="102">0.00%</text></g>
<g id="m86" transform="translate(240,0)"><rect class="fg" x="60" y="-3.5" width="105" height="7"/><use href="#y" y="30"/><use href="#g" x="60" y="0"/><use href="#y" x="180" y="30"/><text class="mn" x="0" y="-7">86</text><text class="tp" x="0" y="-33.5">♩=104</text><text class="s1" x="238.5" y="76">180</text><text class="s2" x="238.5" y="89">145722</text><text class="s3" x="238.5" y="102">0.00%</text></g>
<g id="m87" transform="translate(480,0)"><rect class="fr" y="11.5" width="90" height="7"/><use href="#r" y="15"/><use href="#y" x="120" y="30"/><use href="#o" x="180" y="60"/><text class="mn" x="0" y="-7">87</text><text class="tp" x="0" y="-33.5">♩=104</text><text class="s1" x="238.5" y="76">180</text><text class="s2" x="238.5" y="89">146442</text><text class="s3" x="238.5" y="102">0.00%</text></g>
<g id="m88" transform="translate(720,0)"><rect class="fb" x="60" y="41.5" width="45" height="7"/><use href="#y" y="30"/><use href="#b" x="60" y="45"/><use href="#r" x="150" y="15"/><use href="#y" x="210" y="30"/><text class="mn" x="0" y="-7">88</text><text class="tp" x="0" y="-33.5">♩=104</text><text class="s1" x="238.5" y="76">177</text><text class="s2" x="238.5" y="89">147150</text><text class="s3" x="238.5" y="102">0.00%</text></g>
<rect class="ovb" x="0" y="-0.5" width="204" height="61"/>
</g>

<g id="row23" transform="translate(31.5,3583.5)">
<use href="#grid4"/>
<g id="m89"><rect class="fr" y="11.5" width="45" height="7"/><use href="#r" y="15"/><use href="#y" x="60" y="30"/><use href="#b" x="120" y="45"/><use href="#y" x="180" y="30"/><text class="mn" x="0" y="-7">89</text><text class="tp" x="0" y="-33.5">♩=104</text><text class="s1" x="238.5" y="76">177</text><text class="s2" x="238.5" y="89">147978</text><text class="s3" x="238.5" y="102">0.00%</text></g>
<g id="m90" transform="translate(240,0)"><rect class="fg" x="60" y="-3.5" width="105" height="7"/><use href="#y" y="30"/><use href="#g" x="60" y="0"/><use href="#y" x="180" y="30"/><text class="mn" x="0" y="-7">90</text><text class="tp" x="0" y="-33.5">♩=104</text><text class="s1" x="238.5" y="76">180</text><text class="s2" x="238.5" y="89">148690</text><text class="s3" x="238.5" y="102">0.00%</text></g>
<g id="m91" transform="translate(480,0)"><rect class="fr" y="11.5" width="90" height="7"/><use href="#r" y="15"/><use href="#y" x="120" y="30"/><use href="#o" x="180" y="60"/><text class="mn" x="0" y="-7">91</text><text class="tp" x="0" y="-33.5">♩=104</text><text class="s1" x="238.5" y="76">180</text><text class="s2" x="238.5" y="89">149418</text><text class="s3" x="238.5" y="102">0.00%</text></g>
<g id="m92" transform="translate(720,0)"><rect class="fb" x="60" y="41.5" width="45" height="7"/><use href="#y" y="30"/><use href="#b" x="60" y="45"/><use href="#r" x="150" y="15"/><use href="#y" x="210" y="30"/><text class="mn" x="0" y="-7">92</text><text class="tp" x="0" y="-33.5">♩=104</text><text class="s1" x="238.5" y="76">177</text><text class="s2" x="238.5" y="89">150126</text><text class="s3" x="238.5" y="102">0.00%</text></g>
</g>

<g id="row24" transform="translate(31.5,3736.5)">
<use href="#grid2"/>
<g id="m93"><rect class="fr" y="11.5" width="30" height="7"/><rect class="fb" x="90" y="41.5" width="45" height="7"/><use href="#r" y="15"/><use href="#y" x="60" y="30"/><use href="#b" x="90" y="45"/><use href="#y" x="180" y="30"/><text class="mn" x="0" y="-7">93</text><text class="tp" x="0" y="-33.5">♩=104</text><text class="s1" x="238.5" y="76">207</text><text class="s2" x="238.5" y="89">150954</text><text class="s3" x="238.5" y="102">0.00%</text></g>
<g id="m94" transform="translate(240,0)"><rect class="fg" x="60" y="-3.5" width="105" height="7"/><use href="#y" y="30"/><use href="#g" x="60" y="0"/><use href="#y" x="180" y="30"/><text class="mn" x="0" y="-7">94</text><text class="tp" x="0" y="-33.5">♩=104</text><text class="s1" x="238.5" y="76">180</text><text class="s2" x="238.5" y="89">151674</text><text class="s3" x="238.5" y="102">0.00%</text></g>
</g>
</svg>
